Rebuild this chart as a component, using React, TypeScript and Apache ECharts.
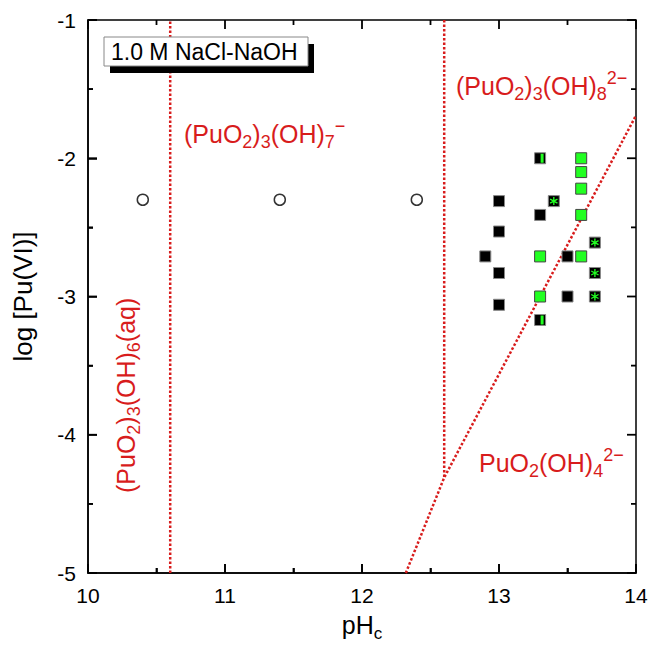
import React, { useEffect, useRef } from 'react';
import * as echarts from 'echarts';

// ---- data ----
const xRange = [10, 14];
const yRange = [-5, -1];
const xMajorTicks = [10, 11, 12, 13, 14];
const xMinorTicks = [10.5, 11.5, 12.5, 13.5];
const yMajorTicks = [-5, -4, -3, -2, -1];
const yMinorTicks = [-4.5, -3.5, -2.5, -1.5];

const openCircles = [
  [10.4, -2.3],
  [11.4, -2.3],
  [12.4, -2.3],
];
const blackSquares = [
  [13.0, -2.31],
  [13.3, -2.41],
  [13.0, -2.53],
  [12.9, -2.71],
  [13.5, -2.71],
  [13.0, -2.83],
  [13.5, -3.0],
  [13.0, -3.06],
];
const greenSquares = [
  [13.6, -2.0],
  [13.6, -2.1],
  [13.6, -2.22],
  [13.6, -2.41],
  [13.3, -2.71],
  [13.6, -2.71],
  [13.3, -3.0],
];
const halfSquares = [
  [13.3, -2.0],
  [13.3, -3.17],
];
const starSquares = [
  [13.4, -2.31],
  [13.7, -2.61],
  [13.7, -2.83],
  [13.7, -3.0],
];
const boundaryA = [
  [10.6, -5],
  [10.6, -1],
];
const boundaryB = [
  [12.6, -1],
  [12.6, -4.31],
];
const boundaryC = [
  [12.32, -5],
  [12.6, -4.31],
  [14, -1.69],
];

const FONT = 'Liberation Sans, Arial, sans-serif';
const RED = '#d81c1c';
const GREEN = '#22ff22';

const GRID = { left: 88, right: 15, top: 20, bottom: 73 };
const PLOT_W = 651 - GRID.left - GRID.right;
const PLOT_H = 646 - GRID.top - GRID.bottom;
const xUnitPerPx = (xRange[1] - xRange[0]) / PLOT_W;
const yUnitPerPx = (yRange[1] - yRange[0]) / PLOT_H;

const asterisk =
  'path://M-0.8,-5 L0.8,-5 L0.8,5 L-0.8,5 Z M3.93,-3.19 L4.73,-1.81 L-3.93,3.19 L-4.73,1.81 Z M4.73,1.81 L3.93,3.19 L-4.73,-1.81 L-3.93,-3.19 Z';

const richRed = {
  n: { fontSize: 25, fontFamily: FONT, fill: RED, color: RED, lineHeight: 34 },
  s: { fontSize: 18, fontFamily: FONT, fill: RED, color: RED, lineHeight: 17, verticalAlign: 'bottom' },
  p: { fontSize: 18, fontFamily: FONT, fill: RED, color: RED, lineHeight: 18, verticalAlign: 'top' },
};

function redLabel(text: string, x: number, y: number, rotation = 0) {
  return {
    type: 'text',
    x,
    y,
    rotation,
    silent: true,
    z: 100,
    style: {
      x: 0,
      y: 0,
      text,
      rich: richRed,
      align: 'left',
      verticalAlign: 'middle',
      fill: RED,
      font: `25px ${FONT}`,
    },
  };
}

function lineSeries(data: number[][]) {
  return {
    type: 'line',
    data,
    symbol: 'none',
    silent: true,
    z: 3,
    lineStyle: { color: RED, width: 2.5, type: [2.5, 2] },
  };
}

function segment(data: number[][]) {
  return {
    type: 'line',
    data,
    symbol: 'none',
    silent: true,
    clip: false,
    z: 10,
    lineStyle: { color: '#000', width: 1.8, type: 'solid' },
  };
}

// inward ticks on all four frame edges, placed through the axes' scales
function xTickSeries(values: number[], lenPx: number) {
  const d = lenPx * yUnitPerPx;
  const out: any[] = [];
  values.forEach((v) => {
    out.push(segment([[v, yRange[0]], [v, yRange[0] + d]]));
    out.push(segment([[v, yRange[1]], [v, yRange[1] - d]]));
  });
  return out;
}
function yTickSeries(values: number[], lenPx: number) {
  const d = lenPx * xUnitPerPx;
  const out: any[] = [];
  values.forEach((v) => {
    out.push(segment([[xRange[0], v], [xRange[0] + d, v]]));
    out.push(segment([[xRange[1], v], [xRange[1] - d, v]]));
  });
  return out;
}

export default function App() {
  const ref = useRef<HTMLDivElement>(null);
  useEffect(() => {
    if (!ref.current) return;
    const chart = echarts.init(ref.current, undefined, { renderer: 'svg' });
    const label = { fontSize: 21, color: '#000', fontFamily: FONT };
    const axisLine = { show: true, onZero: false, lineStyle: { color: '#000', width: 1.5 } };
    const tick = { show: true, inside: true, length: 9, lineStyle: { color: '#000', width: 1.5 } };
    const minor = { show: true, splitNumber: 2, length: 5, lineStyle: { color: '#000', width: 1.5 } };
    chart.setOption({
      animation: false,
      backgroundColor: '#fff',
      grid: {
        ...GRID,
        containLabel: false,
        outerBoundsMode: 'none',
        show: true,
        borderColor: '#000',
        borderWidth: 1.5,
        backgroundColor: 'transparent',
      },
      xAxis: {
        type: 'value',
        min: xRange[0],
        max: xRange[1],
        interval: 1,
        position: 'bottom',
        axisLine,
        axisTick: tick,
        minorTick: minor,
        splitLine: { show: false },
        axisLabel: { ...label, margin: 12 },
        name: 'pH{s|c}',
        nameLocation: 'middle',
        nameGap: 35,
        nameMoveOverlap: false,
        nameTextStyle: {
          fontSize: 25,
          color: '#000',
          fontFamily: FONT,
          rich: {
            s: { fontSize: 17, color: '#000', fontFamily: FONT, verticalAlign: 'bottom', lineHeight: 16 },
          },
          lineHeight: 34,
        },
      },
      yAxis: {
        type: 'value',
        min: yRange[0],
        max: yRange[1],
        interval: 1,
        position: 'left',
        axisLine,
        axisTick: tick,
        minorTick: minor,
        splitLine: { show: false },
        axisLabel: { ...label, margin: 12 },
        name: 'log [Pu(VI)]',
        nameLocation: 'middle',
        nameGap: 52,
        nameMoveOverlap: false,
        nameTextStyle: { fontSize: 26, color: '#000', fontFamily: FONT },
      },
      series: [
        lineSeries(boundaryA),
        lineSeries(boundaryB),
        lineSeries(boundaryC),
        ...xTickSeries(xMajorTicks, 9),
        ...xTickSeries(xMinorTicks, 5),
        ...yTickSeries(yMajorTicks, 9),
        ...yTickSeries(yMinorTicks, 5),
        {
          type: 'scatter',
          data: openCircles,
          symbol: 'circle',
          symbolSize: 11,
          z: 4,
          itemStyle: { color: '#fff', borderColor: '#333', borderWidth: 1.5, opacity: 1 },
        },
        {
          type: 'scatter',
          data: blackSquares,
          symbol: 'rect',
          symbolSize: 11,
          z: 4,
          itemStyle: { color: '#000', borderColor: '#888', borderWidth: 1, opacity: 1 },
        },
        {
          type: 'scatter',
          data: greenSquares,
          symbol: 'rect',
          symbolSize: 11,
          z: 4,
          itemStyle: { color: GREEN, borderColor: '#444', borderWidth: 1, opacity: 1 },
        },
        {
          type: 'scatter',
          data: halfSquares,
          symbol: 'rect',
          symbolSize: 11,
          z: 4,
          itemStyle: { color: '#000', borderColor: '#888', borderWidth: 1, opacity: 1 },
        },
        {
          type: 'scatter',
          data: halfSquares,
          symbol: 'rect',
          symbolSize: [3, 9],
          symbolOffset: [2, 0],
          z: 5,
          itemStyle: { color: GREEN, opacity: 1 },
        },
        {
          type: 'scatter',
          data: starSquares,
          symbol: 'rect',
          symbolSize: 11,
          z: 4,
          itemStyle: { color: '#000', borderColor: '#888', borderWidth: 1, opacity: 1 },
        },
        {
          type: 'scatter',
          data: starSquares,
          symbol: asterisk,
          symbolSize: 8,
          z: 5,
          itemStyle: { color: GREEN, opacity: 1 },
        },
      ],
      graphic: [
        { type: 'rect', shape: { x: 110, y: 44, width: 204, height: 29 }, style: { fill: '#000' }, z: 100 },
        {
          type: 'rect',
          shape: { x: 104, y: 37, width: 204, height: 29 },
          style: { fill: '#fff', stroke: '#888', lineWidth: 1 },
          z: 101,
        },
        {
          type: 'text',
          x: 111,
          y: 52,
          z: 102,
          style: { text: '1.0 M NaCl-NaOH', font: `23px ${FONT}`, fill: '#000', align: 'left', verticalAlign: 'middle' },
        },
        redLabel('{n|(PuO}{s|2}{n|)}{s|3}{n|(OH)}{s|7}{p|−}', 184, 134),
        redLabel('{n|(PuO}{s|2}{n|)}{s|3}{n|(OH)}{s|8}{p|2−}', 456, 86),
        redLabel('{n|PuO}{s|2}{n|(OH)}{s|4}{p|2−}', 479, 463),
        redLabel('{n|(PuO}{s|2}{n|)}{s|3}{n|(OH)}{s|6}{n|(aq)}', 126, 493, Math.PI / 2),
      ],
    });
    return () => chart.dispose();
  }, []);
  return (
    <div
      ref={ref}
      style={{ position: 'fixed', left: 0, top: 0, width: 651, height: 646, background: '#fff' }}
    />
  );
}
